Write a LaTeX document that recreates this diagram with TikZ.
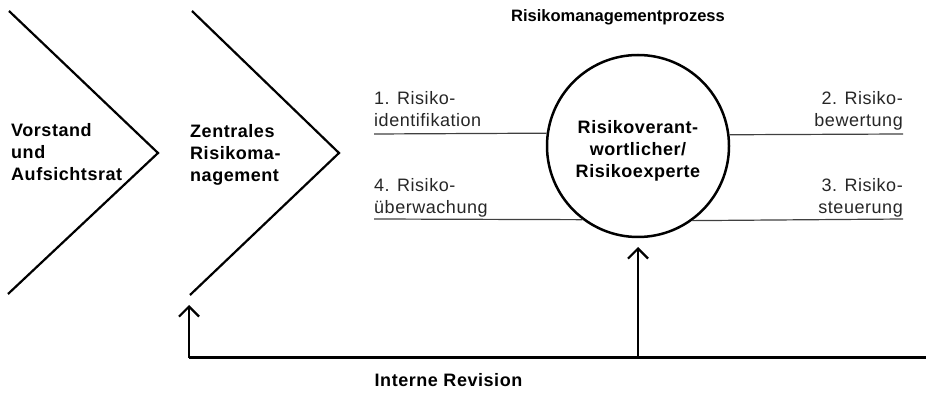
\documentclass[tikz,border=0pt]{standalone}
\usepackage{fontspec}
\setmainfont[LetterSpace=3]{Liberation Sans}
\newfontfamily\titlefont{Liberation Sans}
\usetikzlibrary{arrows.meta}
\tikzset{
  lbl/.style={font=\fontsize{18}{22}\selectfont, text=black!85, inner sep=0pt},
  bold/.style={font=\fontsize{18}{22}\selectfont\bfseries, inner sep=0pt},
  chev/.style={line width=2.2pt, line join=miter},
  thinline/.style={line width=1.2pt, draw=black!75},
  arr/.style={line width=2.2pt, -{Straight Barb[length=10pt,width=20pt]}},
}
\begin{document}
\begin{tikzpicture}[x=1pt,y=-1pt]
\useasboundingbox (0,0) rectangle (926,419);
% chevrons
\coordinate (a1) at (9,11); \coordinate (a2) at (158,153); \coordinate (a3) at (8,294);
\coordinate (b1) at (192,11); \coordinate (b2) at (339,153); \coordinate (b3) at (190,295);
\draw[chev] (a1) -- (a2) -- (a3);
\draw[chev] (b1) -- (b2) -- (b3);
\node[bold, anchor=north west, align=left] (vs) at (11,123) {Vorstand\\und\\Aufsichtsrat};
\node[bold, anchor=north west, align=left] (zr) at (190,124) {Zentrales\\Risikoma-\\nagement};
% title
\node[font=\fontsize{16.5}{20}\selectfont\titlefont\bfseries, inner sep=0pt, anchor=base] (t) at (618,22) {Risikomanagementprozess};
% circle
\node[circle, draw, line width=2.5pt, minimum size=182pt, inner sep=0pt] (c) at (638,146) {};
\node[bold, align=center, anchor=north] (ct) at (638,120) {Risikoverant-\\wortlicher/\\Risikoexperte};
% process labels and lines
\coordinate (l1) at (374,134); \coordinate (l2) at (374,219);
\coordinate (r1) at (903,134); \coordinate (r2) at (903,219);
\draw[thinline] (l1) -- (c.172.4);
\draw[thinline] (l2) -- (c.233.3);
\draw[thinline] (r1) -- (c.7.6);
\draw[thinline] (r2) -- (c.306.7);
\node[lbl, anchor=north west, align=left] (p1) at (374,91) {1. Risiko-\\identifikation};
\node[lbl, anchor=north west, align=left] (p4) at (374,178) {4. Risiko-\\überwachung};
\node[lbl, anchor=north east, align=right] (p2) at (903,91) {2. Risiko-\\bewertung};
\node[lbl, anchor=north east, align=right] (p3) at (903,178) {3. Risiko-\\steuerung};
% internal revision
\coordinate (corner) at (189,358);
\coordinate (rend) at (926,358);
\coordinate (mid) at (638,358);
\coordinate (ltip) at (189,305);
\coordinate (ctip) at (638,247);
\draw[line width=3pt] (corner) -- (rend);
\draw[arr] (corner) -- (ltip);
\draw[arr] (mid) -- (ctip);
\node[bold, anchor=base] (ir) at (448.5,386) {Interne Revision};
\end{tikzpicture}
\end{document}
